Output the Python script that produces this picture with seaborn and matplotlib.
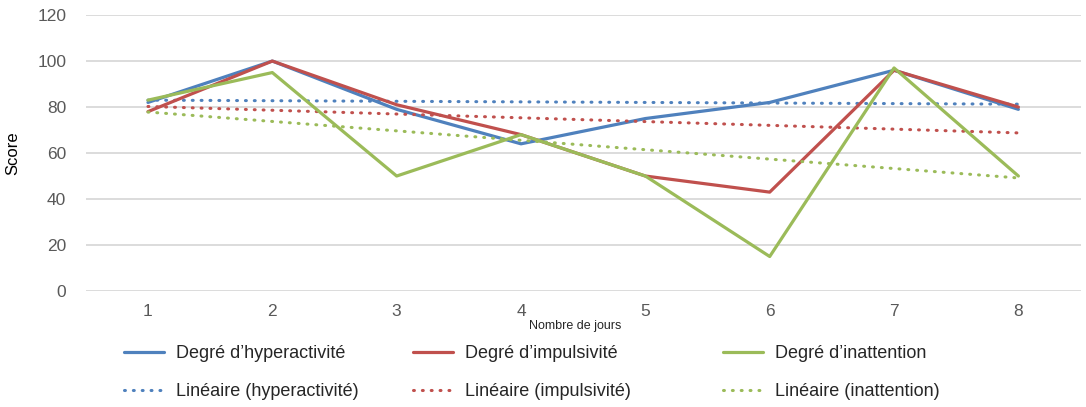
import pandas as pd
import seaborn as sns
import matplotlib.pyplot as plt

# Data
jours = [1, 2, 3, 4, 5, 6, 7, 8]
hyperactivite = [82, 100, 79, 64, 75, 82, 96, 79]
impulsivite = [78, 100, 81, 68, 50, 43, 96, 80]
inattention = [83, 95, 50, 68, 50, 15, 97, 50]

series = [
    ("hyperactivité", hyperactivite, "#4F81BD"),
    ("impulsivité", impulsivite, "#C0504D"),
    ("inattention", inattention, "#9BBB59"),
]

sns.set_style("white")
plt.rcParams['font.family'] = ['Liberation Sans', 'DejaVu Sans']

fig = plt.figure(figsize=(10.86, 4.07), dpi=100)
ax = fig.add_axes([0.079, 0.285, 0.916, 0.678])

groups = []
for name, values, color in series:
    df = pd.DataFrame({'jour': jours, 'score': values})
    sns.lineplot(data=df, x='jour', y='score', color=color, linewidth=2.3,
                 legend=False, ax=ax)
    ax.lines[-1].set_label("Degré d\u2019" + name)
    main = ax.lines[-1]
    # linear trend, like the spreadsheet's "Linéaire" trendline
    sns.regplot(data=df, x='jour', y='score', scatter=False, ci=None, ax=ax,
                line_kws={'color': color, 'linewidth': 2.2,
                          'linestyle': (0, (0.3, 2.6)),
                          'dash_capstyle': 'round'})
    ax.lines[-1].set_label("Linéaire (" + name + ")")
    groups.append([main, ax.lines[-1]])

ax.set_xlim(0.5, 8.5)
ax.set_ylim(0, 120)
ax.set_yticks(range(0, 121, 20))
ax.set_xticks(jours)
ax.grid(axis='y', color='#D9D9D9', linewidth=1.3)
ax.set_axisbelow(True)
for s in ax.spines.values():
    s.set_visible(False)
ax.tick_params(axis='both', length=0, labelsize=12.5, labelcolor='#595959')
ax.tick_params(axis='y', pad=14)
ax.tick_params(axis='x', pad=9)
ax.set_xlabel('')
ax.set_ylabel('Score', fontsize=12, color='black', labelpad=12)

fig.text(0.53, 0.2, 'Nombre de jours', ha='center', va='center', fontsize=9,
         family=['Liberation Sans Narrow', 'Liberation Sans'])

# one legend column per series
for hs, x0 in zip(groups, [0.1142, 0.3803, 0.6657]):
    fig.legend(handles=hs, loc='upper left', bbox_to_anchor=(x0, 0.152),
               frameon=False, fontsize=13, handlelength=2.2,
               handletextpad=0.7, labelspacing=1.15,
               borderpad=0, borderaxespad=0)

fig.savefig('out.png', dpi=100)
